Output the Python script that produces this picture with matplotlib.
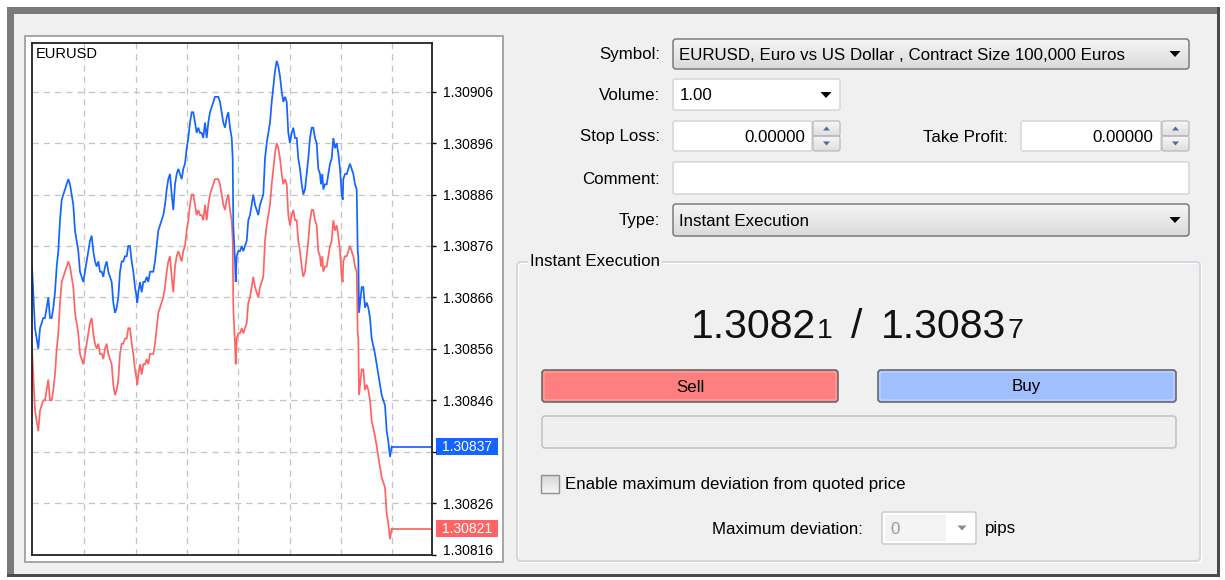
import numpy as np
import matplotlib
matplotlib.use("Agg")
import matplotlib.pyplot as plt
import matplotlib.colors as mcolors
from matplotlib.patches import Rectangle, FancyBboxPatch, Polygon
from matplotlib.transforms import ScaledTranslation

plt.rcParams['font.family'] = ['Liberation Sans', 'DejaVu Sans']

# ---------------- data ----------------
symbol = "EURUSD"
symbol_desc = "EURUSD, Euro vs US Dollar , Contract Size 100,000 Euros"
volume = "1.00"
stop_loss = "0.00000"
take_profit = "0.00000"
order_type = "Instant Execution"
max_deviation = "0"

tick_x = [0, 1, 3, 6.3, 8, 11.3, 13, 14.7, 16.3, 18, 19.7, 21.3, 23, 24.7, 26.3, 28, 29.7, 31.3, 33, 34.7,
          36.3, 38, 39.7, 41.3, 43, 44.7, 46.3, 48, 49.7, 51.3, 53, 54.7, 56.3, 58, 59.7, 61.3, 63, 64.7, 66.3, 68,
          69.7, 71.3, 73, 74.7, 76.3, 78, 79.7, 81.3, 83, 84.7, 86.3, 88, 89.7, 91.3, 93,
          94.7, 96.3, 98, 99.7, 101.3, 103, 104.7, 105.3, 106.3, 108, 109.7, 111.3, 113, 114.7, 116.3, 118, 119.7,
          121.3, 123, 124.7, 126.3, 128, 129.7, 131.3, 133, 134.7, 136.3, 138, 139.7, 141.3, 143, 144.7, 146.3, 148,
          149.7, 151.3, 153, 154.7, 156.3, 158, 159.7, 161.3, 163, 164.7, 166.3, 168, 169.7, 171.3, 173, 174.7, 176.3,
          178, 179.7, 181.3, 183, 184.7, 186.3, 188,
          189.7, 191.3, 193, 194.7, 196.3, 198, 199.7, 200.7, 201.3, 203, 203.7, 204.7, 206.3, 208, 209.7, 211.3, 213,
          214.7, 216.3, 218, 219.7, 221.3, 223, 224.7, 226.3, 228, 229.7, 231.3, 232.3, 233, 234.7, 236.3, 238, 239.7,
          241.3, 243, 244.7, 246.3, 248, 249.7, 251.3, 253, 254.7, 256.3, 258, 259.7, 261.3, 263, 264.7, 266.3, 268,
          269.7, 271.3, 273, 274.7, 276.3, 278, 279.7, 281.3, 283,
          284.7, 286.3, 288, 289, 290.3, 291.3, 293, 294.7, 296.3, 298, 299.7, 301.3, 303, 304.7, 306.3, 308, 309.7,
          310.7, 311.3, 313, 314.7, 316.3, 318, 319.7, 321.3, 323, 324.7, 325.7, 326.3, 327, 329.7, 331.3, 333, 334.7,
          336.3, 338, 339.7, 343, 346.3, 349.7, 351.3, 353, 354.7, 356.3, 358, 359.7]

ask = [1.30872, 1.30868, 1.30860, 1.30856, 1.30860, 1.30862, 1.30862, 1.30864, 1.30866, 1.30862,
       1.30862, 1.30864, 1.30867, 1.30872, 1.30875, 1.30881, 1.30885, 1.30886, 1.30887, 1.30888,
       1.30889, 1.30888, 1.30886, 1.30884, 1.30879, 1.30877, 1.30875, 1.30871, 1.30870, 1.30869,
       1.30871, 1.30873, 1.30875, 1.30877, 1.30878, 1.30875, 1.30873, 1.30872, 1.30873, 1.30871,
       1.30871, 1.30870, 1.30872, 1.30873, 1.30871, 1.30870, 1.30869, 1.30865, 1.30863, 1.30864,
       1.30866, 1.30871, 1.30873, 1.30873, 1.30874,
       1.30874, 1.30876, 1.30876, 1.30873, 1.30871, 1.30868, 1.30866, 1.30865, 1.30867, 1.30869,
       1.30867, 1.30869, 1.30869, 1.30870, 1.30869, 1.30871, 1.30871, 1.30871, 1.30873, 1.30876,
       1.30879, 1.30880, 1.30881, 1.30882, 1.30884, 1.30887, 1.30889, 1.30890, 1.30886, 1.30883,
       1.30888, 1.30890, 1.30891, 1.30890, 1.30889, 1.30891, 1.30892, 1.30895, 1.30897, 1.30900,
       1.30902, 1.30902, 1.30900, 1.30898, 1.30899, 1.30898, 1.30898, 1.30897, 1.30900, 1.30897,
       1.30900, 1.30902, 1.30903, 1.30904, 1.30905, 1.30905, 1.30905, 1.30904,
       1.30902, 1.30900, 1.30899, 1.30901, 1.30902, 1.30899, 1.30897, 1.30893, 1.30880, 1.30873,
       1.30869, 1.30874, 1.30875, 1.30875, 1.30876, 1.30875, 1.30876, 1.30877, 1.30881, 1.30882,
       1.30884, 1.30886, 1.30884, 1.30883, 1.30882, 1.30884, 1.30885, 1.30886, 1.30890, 1.30893,
       1.30896, 1.30898, 1.30900, 1.30904, 1.30907, 1.30910, 1.30912, 1.30911, 1.30909, 1.30906,
       1.30904, 1.30905, 1.30904, 1.30898, 1.30896, 1.30898, 1.30899, 1.30897, 1.30897, 1.30893,
       1.30891, 1.30888, 1.30886, 1.30887, 1.30890, 1.30893, 1.30897, 1.30899, 1.30899, 1.30897,
       1.30896, 1.30891, 1.30890, 1.30888, 1.30890, 1.30887, 1.30888, 1.30888, 1.30890, 1.30892,
       1.30893, 1.30897, 1.30895, 1.30896, 1.30894, 1.30891, 1.30886, 1.30885, 1.30889, 1.30890,
       1.30890, 1.30891, 1.30892, 1.30891, 1.30890, 1.30888, 1.30887, 1.30875, 1.30874, 1.30863,
       1.30868, 1.30868, 1.30864, 1.30865, 1.30864, 1.30862, 1.30858, 1.30855, 1.30851, 1.30847,
       1.30846, 1.30845, 1.30840, 1.30838, 1.30835, 1.30837]

bid = [1.30856, 1.30852, 1.30844, 1.30840, 1.30844, 1.30846, 1.30846, 1.30848, 1.30850, 1.30846,
       1.30846, 1.30848, 1.30851, 1.30856, 1.30859, 1.30865, 1.30869, 1.30870, 1.30871, 1.30872,
       1.30873, 1.30872, 1.30870, 1.30868, 1.30863, 1.30861, 1.30859, 1.30855, 1.30854, 1.30853,
       1.30855, 1.30857, 1.30859, 1.30861, 1.30862, 1.30859, 1.30857, 1.30856, 1.30857, 1.30855,
       1.30855, 1.30854, 1.30856, 1.30857, 1.30855, 1.30854, 1.30853, 1.30849, 1.30847, 1.30848,
       1.30850, 1.30855, 1.30857, 1.30857, 1.30858,
       1.30858, 1.30860, 1.30860, 1.30857, 1.30855, 1.30852, 1.30850, 1.30849, 1.30851, 1.30853,
       1.30851, 1.30853, 1.30853, 1.30854, 1.30853, 1.30855, 1.30855, 1.30855, 1.30857, 1.30860,
       1.30863, 1.30864, 1.30865, 1.30866, 1.30868, 1.30871, 1.30873, 1.30874, 1.30870, 1.30867,
       1.30872, 1.30874, 1.30875, 1.30874, 1.30873, 1.30875, 1.30876, 1.30879, 1.30881, 1.30884,
       1.30886, 1.30886, 1.30884, 1.30882, 1.30883, 1.30882, 1.30882, 1.30881, 1.30884, 1.30881,
       1.30884, 1.30886, 1.30887, 1.30888, 1.30889, 1.30889, 1.30889, 1.30888,
       1.30886, 1.30884, 1.30883, 1.30885, 1.30886, 1.30883, 1.30881, 1.30877, 1.30864, 1.30857,
       1.30853, 1.30858, 1.30859, 1.30859, 1.30860, 1.30859, 1.30860, 1.30861, 1.30865, 1.30866,
       1.30868, 1.30870, 1.30868, 1.30867, 1.30866, 1.30868, 1.30869, 1.30870, 1.30874, 1.30877,
       1.30880, 1.30882, 1.30884, 1.30888, 1.30891, 1.30894, 1.30896, 1.30895, 1.30893, 1.30890,
       1.30888, 1.30889, 1.30888, 1.30882, 1.30880, 1.30882, 1.30883, 1.30881, 1.30881, 1.30877,
       1.30875, 1.30872, 1.30870, 1.30871, 1.30874, 1.30877, 1.30881, 1.30883, 1.30883, 1.30881,
       1.30880, 1.30875, 1.30874, 1.30872, 1.30874, 1.30871, 1.30872, 1.30872, 1.30874, 1.30876,
       1.30877, 1.30881, 1.30879, 1.30880, 1.30878, 1.30875, 1.30870, 1.30869, 1.30873, 1.30874,
       1.30874, 1.30875, 1.30876, 1.30875, 1.30874, 1.30872, 1.30871, 1.30859, 1.30858, 1.30847,
       1.30852, 1.30852, 1.30848, 1.30849, 1.30848, 1.30846, 1.30842, 1.30839, 1.30835, 1.30831,
       1.30830, 1.30829, 1.30824, 1.30822, 1.30819, 1.30821]

price_ticks = [1.30816, 1.30826, 1.30836, 1.30846, 1.30856, 1.30866, 1.30876, 1.30886, 1.30896, 1.30906]

form_labels = ["Symbol:", "Volume:", "Stop Loss:", "Comment:", "Type:"]

# ---------------- styling ----------------
ASK_C = '#1464ff'
BID_C = '#ff6464'
UI_FS = 12.2
LINE_W = 1.25

W, H = 1225, 580
fig = plt.figure(figsize=(W / 100, H / 100), dpi=100, facecolor='white')
ui = fig.add_axes([0, 0, 1, 1], zorder=0)
ui.set_xlim(0, W)
ui.set_ylim(H, 0)
ui.axis('off')


def rect(x0, y0, x1, y1, fc='none', ec='none', lw=1.0, z=1, r=0):
    if r > 0:
        p = FancyBboxPatch((x0, y0), x1 - x0, y1 - y0,
                           boxstyle=f"round,pad=0,rounding_size={r}",
                           fc=fc, ec=ec, lw=lw, zorder=z)
    else:
        p = Rectangle((x0, y0), x1 - x0, y1 - y0, fc=fc, ec=ec, lw=lw, zorder=z)
    ui.add_patch(p)
    return p


def grad(x0, y0, x1, y1, c_top, c_bot, clip=None, z=1):
    t = np.linspace(0, 1, 64)[:, None, None]
    ct = np.array(mcolors.to_rgb(c_top))
    cb = np.array(mcolors.to_rgb(c_bot))
    img = ct + (cb - ct) * t
    im = ui.imshow(img, extent=(x0, x1, y1, y0), aspect='auto', zorder=z,
                   interpolation='bilinear')
    if clip is not None:
        im.set_clip_path(clip)
    return im


def tri(cx, cy, w, h, color, up=False, z=5):
    if up:
        pts = [(cx - w / 2, cy + h / 2), (cx + w / 2, cy + h / 2), (cx, cy - h / 2)]
    else:
        pts = [(cx - w / 2, cy - h / 2), (cx + w / 2, cy - h / 2), (cx, cy + h / 2)]
    ui.add_patch(Polygon(pts, closed=True, fc=color, ec='none', zorder=z))


def combo(x0, y0, x1, y1, text):
    rect(x0, y0, x1, y1, fc='none', ec='#707070', lw=1.0, z=4, r=3)
    clip = rect(x0, y0, x1, y1, fc='none', ec='none', z=0, r=3)
    grad(x0, y0, x1, y1, '#f5f5f5', '#dadada', clip=clip, z=3)
    ui.text(x0 + 6, (y0 + y1) / 2 + 1, text, ha='left', va='center', fontsize=UI_FS, zorder=6)
    tri(x1 - 14, (y0 + y1) / 2, 11, 6, 'black')


def spinner(x0, y0, x1, y1):
    ym = (y0 + y1) / 2
    for a, b, up in ((y0, ym, True), (ym, y1, False)):
        c = rect(x0, a, x1, b, fc='none', ec='none', z=0, r=2)
        grad(x0, a, x1, b, '#f7f7f7', '#dedede', clip=c, z=3)
        rect(x0, a, x1, b, fc='none', ec='#b4b4b4', lw=0.8, z=4, r=2)
        tri((x0 + x1) / 2, (a + b) / 2, 7, 4, '#4f6f98', up=up)


# ---------------- window frame ----------------
rect(7, 7, 1219, 577, fc='#f0f0f0', z=0.2)
rect(7, 7, 1219, 14, fc='#7a7a7a', z=0.3)
rect(7, 7, 14, 577, fc='#7a7a7a', z=0.3)
rect(1216.5, 7, 1219.5, 577, fc='#4a4a4a', z=0.3)
rect(7, 574, 1219.5, 577, fc='#4a4a4a', z=0.3)

# chart panel
rect(24.5, 35.5, 503, 561.5, fc='white', ec='#a0a0a0', lw=1.3, z=0.5)

# ---------------- chart ----------------
ax = fig.add_axes([32 / W, 1 - 555 / H, 400 / W, 512 / H], zorder=1)
ax.set_facecolor('white')
ax.set_xlim(0, 400)
ax.set_ylim(1.3081591, 1.3091547)
ax.set_axisbelow(True)

ax.plot(tick_x, bid, color=BID_C, lw=LINE_W, solid_joinstyle='miter')
ax.plot(tick_x, ask, color=ASK_C, lw=LINE_W, solid_joinstyle='miter')
ax.plot([tick_x[-1], 400], [bid[-1], bid[-1]], color=BID_C, lw=LINE_W)
ax.plot([tick_x[-1], 400], [ask[-1], ask[-1]], color=ASK_C, lw=LINE_W)

ax.yaxis.tick_right()
ax.set_yticks(price_ticks)
labels = []
for v in price_ticks:
    if abs(v - ask[-1]) < 3e-5 or abs(v - bid[-1]) < 3e-5:
        labels.append('')
    else:
        labels.append(f"{v:.5f}")
ax.set_yticklabels(labels)
ax.tick_params(axis='y', length=3, width=1, pad=5, labelsize=10, colors='black')
ax.set_xticks([1 + 51.35 * k for k in range(1, 8)])
ax.tick_params(axis='x', length=0, labelbottom=False)
ax.grid(True, color='#c4c4c4', lw=0.9, ls=(0, (5, 4)))
for s in ax.spines.values():
    s.set_color('#222222')
    s.set_linewidth(1.3)

# shift bottom-most label up (as the terminal clamps it inside the panel)
for lab in ax.get_yticklabels():
    if lab.get_text() == f"{price_ticks[0]:.5f}":
        lab.set_transform(lab.get_transform() + ScaledTranslation(0, 5 / 100, fig.dpi_scale_trans))


def price_box(val, color):
    y = H - ax.transData.transform((0, val))[1]
    rect(436, y - 8.5, 498, y + 8.5, fc=color, z=2)
    ui.text(467, y, f"{val:.5f}", color='white', ha='center', va='center', fontsize=10, zorder=3)


price_box(ask[-1], ASK_C)
price_box(bid[-1], BID_C)

fig.text(36, 54, symbol, transform=ui.transData, fontsize=10.5, ha='left', va='center', color='black')

# ---------------- order form ----------------
label_y = [55, 96, 137, 179, 221]
for lab, y in zip(form_labels, label_y):
    ui.text(660, y, lab, ha='right', va='center', fontsize=UI_FS)

combo(673, 39, 1189, 69, symbol_desc)

# volume
rect(673, 79, 840, 110, fc='white', ec='#d2d2d2', lw=1.0, z=3, r=2)
ui.text(680, 96, volume, ha='left', va='center', fontsize=UI_FS, zorder=6)
tri(826, 95, 11, 6, 'black')

# stop loss
rect(673, 121, 812, 151, fc='white', ec='#d2d2d2', lw=1.0, z=3, r=2)
ui.text(805, 137, stop_loss, ha='right', va='center', fontsize=UI_FS, zorder=6)
spinner(813, 121, 840, 151)

# take profit
ui.text(1008, 137, "Take Profit:", ha='right', va='center', fontsize=UI_FS)
rect(1021, 121, 1161, 151, fc='white', ec='#d2d2d2', lw=1.0, z=3, r=2)
ui.text(1153, 137, take_profit, ha='right', va='center', fontsize=UI_FS, zorder=6)
spinner(1162, 121, 1189, 151)

# comment
rect(673, 162, 1189, 194, fc='white', ec='#d2d2d2', lw=1.0, z=3, r=2)

# type
combo(673, 204, 1189, 236, order_type)

# group box
rect(517, 262, 1200, 561, fc='none', ec='#cdd7de', lw=1.3, z=2, r=4)
rect(518.5, 263.5, 1201.5, 562.5, fc='none', ec='#ffffff', lw=0.8, z=1.9, r=4)
ui.text(530, 262, order_type, ha='left', va='center', fontsize=UI_FS, zorder=6,
        bbox=dict(fc='#f0f0f0', ec='none', pad=1.5))

# bid / ask quote
renderer = fig.canvas.get_renderer()
bid_s = f"{bid[-1]:.5f}"
ask_s = f"{ask[-1]:.5f}"
pieces = [(bid_s[:-1], 29.5, 1), (bid_s[-1], 20.5, 18), ("/", 29.5, 19), (ask_s[:-1], 29.5, 1), (ask_s[-1], 20.5, 0)]
xcur = 691
for s, fs, gap in pieces:
    t = ui.text(xcur, 338, s, ha='left', va='baseline', fontsize=fs, color='#111111', zorder=6)
    bb = t.get_window_extent(renderer=renderer)
    xcur = xcur + bb.width + gap

# sell / buy buttons
rect(542, 370, 838, 402, fc='#ff7f7f', ec='#6a6a6a', lw=1.2, z=3, r=3)
rect(544, 372, 836, 400, fc='none', ec='#ffa3a3', lw=0.8, z=3.5, r=2)
ui.text(690, 387, "Sell", ha='center', va='center', fontsize=UI_FS, zorder=6)
rect(878, 370, 1176, 402, fc='#a0bfff', ec='#6a6a6a', lw=1.2, z=3, r=3)
rect(880, 372, 1174, 400, fc='none', ec='#c3d6ff', lw=0.8, z=3.5, r=2)
ui.text(1026, 387, "Buy", ha='center', va='center', fontsize=UI_FS, zorder=6)

# status bar
rect(542, 416, 1176, 448, fc='#efefef', ec='#bcbcbc', lw=1.0, z=3, r=3)

# checkbox
cb_clip = rect(541, 475, 559, 493, fc='none', ec='none', z=0)
grad(541, 475, 559, 493, '#d6d6d6', '#f6f6f6', clip=cb_clip, z=3)
rect(541, 475, 559, 493, fc='none', ec='#8e8f8f', lw=1.0, z=4)
ui.text(565, 485, "Enable maximum deviation from quoted price", ha='left', va='center', fontsize=UI_FS)

# max deviation
ui.text(863, 529, "Maximum deviation:", ha='right', va='center', fontsize=UI_FS)
rect(882, 512, 976, 544, fc='white', ec='#c8c8c8', lw=1.0, z=3, r=2)
rect(885, 515, 946, 541, fc='#f3f3f3', ec='none', z=3.2)
ui.text(890, 529, max_deviation, ha='left', va='center', fontsize=UI_FS, color='#9a9a9a', zorder=6)
tri(962, 528, 9, 5, '#8a8a8a')
ui.text(985, 529, "pips", ha='left', va='center', fontsize=UI_FS)

ui.set_xlim(0, W)
ui.set_ylim(H, 0)

fig.savefig("out.png", dpi=100, facecolor='white')
